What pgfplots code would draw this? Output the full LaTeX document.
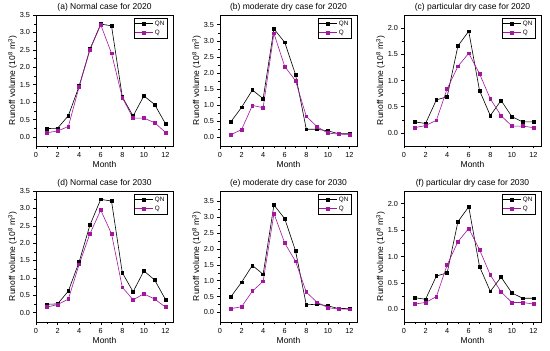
\documentclass[border=0pt]{standalone}
\usepackage{pgfplots}
\pgfplotsset{compat=1.18}
\usepgfplotslibrary{groupplots}
\usepackage{fontspec}
\setmainfont{Liberation Sans}
\definecolor{qmag}{HTML}{A3179F}
\pgfplotsset{
  every axis/.append style={
    scale only axis, width=137pt, height=131pt,
    xmin=0, xmax=12.7, xtick={0,2,...,12}, minor x tick num=1,
    minor y tick num=1,
    tick align=outside, tick pos=left,
    major tick length=2.5pt, minor tick length=1.5pt,
    tick style={black, line width=0.4pt},
    axis line style={line width=0.5pt},
    /pgf/number format/assume math mode=true,
    /pgf/number format/fixed, /pgf/number format/fixed zerofill,
    /pgf/number format/precision=1,
    xticklabel style={font=\fontsize{7.3}{8}\selectfont, /pgf/number format/precision=0},
    yticklabel style={font=\fontsize{7.3}{8}\selectfont},
    xlabel={Month}, ylabel={Runoff volume (10\textsuperscript{8} m\textsuperscript{3})},
    label style={font=\fontsize{8.5}{9}\selectfont},
    xlabel style={yshift=3pt},
    ylabel style={yshift=-4pt},
    title style={font=\fontsize{8.5}{9}\selectfont, yshift=-6pt},
    legend style={font=\fontsize{6.3}{6.5}\selectfont, at={(0.96,0.98)}, anchor=north east,
      draw=black, line width=0.4pt, inner sep=1pt, row sep=-1pt, legend cell align=left},
    legend image code/.code={\draw[mark repeat=2,mark phase=2] plot coordinates {(0cm,0cm) (0.3cm,0cm) (0.6cm,0cm)};},
    cycle list={{black, line width=0.6pt, mark=square*, mark size=1.4pt},{qmag, line width=0.6pt, mark=square*, mark size=1.4pt}},
  },
}
\begin{document}
\begin{tikzpicture}
\begin{groupplot}[group style={group size=3 by 2, horizontal sep=47pt, vertical sep=45pt}]
\nextgroupplot[title={(a) Normal case for 2020}, ymin=-0.26, ymax=3.5, ytick={0,0.5,...,3.5}]
\addplot coordinates {(1,0.24)(2,0.25)(3,0.61)(4,1.46)(5,2.52)(6,3.24)(7,3.19)(8,1.15)(9,0.60)(10,1.18)(11,0.93)(12,0.38)};
\addplot coordinates {(1,0.12)(2,0.17)(3,0.30)(4,1.44)(5,2.50)(6,3.22)(7,2.40)(8,1.13)(9,0.54)(10,0.54)(11,0.41)(12,0.13)};
\legend{QN,Q}
\nextgroupplot[title={(b) moderate dry case for 2020}, ymin=-0.27, ymax=3.8, ytick={0,0.5,...,3.5}]
\addplot coordinates {(1,0.48)(2,0.93)(3,1.47)(4,1.20)(5,3.37)(6,2.95)(7,1.95)(8,0.25)(9,0.25)(10,0.20)(11,0.11)(12,0.11)};
\addplot coordinates {(1,0.08)(2,0.24)(3,0.99)(4,0.92)(5,3.23)(6,2.20)(7,1.76)(8,0.65)(9,0.33)(10,0.13)(11,0.10)(12,0.09)};
\legend{QN,Q}
\nextgroupplot[title={(c) particular dry case for 2020}, ymin=-0.25, ymax=2.25, ytick={0,0.5,...,2.0}]
\addplot coordinates {(1,0.21)(2,0.18)(3,0.63)(4,0.69)(5,1.66)(6,1.94)(7,0.81)(8,0.33)(9,0.62)(10,0.31)(11,0.21)(12,0.21)};
\addplot coordinates {(1,0.10)(2,0.14)(3,0.24)(4,0.84)(5,1.27)(6,1.52)(7,1.13)(8,0.65)(9,0.33)(10,0.13)(11,0.13)(12,0.10)};
\legend{QN,Q}
\nextgroupplot[title={(d) Normal case for 2030}, ymin=-0.27, ymax=3.5, ytick={0,0.5,...,3.5}]
\addplot coordinates {(1,0.24)(2,0.25)(3,0.62)(4,1.46)(5,2.52)(6,3.26)(7,3.21)(8,1.15)(9,0.60)(10,1.20)(11,0.94)(12,0.38)};
\addplot coordinates {(1,0.16)(2,0.23)(3,0.39)(4,1.39)(5,2.27)(6,2.95)(7,2.27)(8,0.73)(9,0.37)(10,0.54)(11,0.39)(12,0.16)};
\legend{QN,Q}
\nextgroupplot[title={(e) moderate dry case for 2030}, ymin=-0.3, ymax=3.82, ytick={0,0.5,...,3.5}]
\addplot coordinates {(1,0.49)(2,0.95)(3,1.48)(4,1.20)(5,3.38)(6,2.95)(7,1.94)(8,0.24)(9,0.26)(10,0.21)(11,0.12)(12,0.13)};
\addplot coordinates {(1,0.12)(2,0.18)(3,0.67)(4,0.98)(5,3.11)(6,2.18)(7,1.61)(8,0.64)(9,0.32)(10,0.15)(11,0.11)(12,0.10)};
\legend{QN,Q}
\nextgroupplot[title={(f) particular dry case for 2030}, ymin=-0.24, ymax=2.24, ytick={0,0.5,...,2.0}]
\addplot coordinates {(1,0.22)(2,0.19)(3,0.63)(4,0.69)(5,1.66)(6,1.94)(7,0.81)(8,0.34)(9,0.61)(10,0.31)(11,0.21)(12,0.21)};
\addplot coordinates {(1,0.10)(2,0.13)(3,0.24)(4,0.84)(5,1.28)(6,1.53)(7,1.13)(8,0.65)(9,0.33)(10,0.13)(11,0.13)(12,0.10)};
\legend{QN,Q}
\end{groupplot}
\useasboundingbox ([xshift=-36pt,yshift=15pt]group c1r1.north west) rectangle ([xshift=514pt,yshift=-336pt]group c1r1.north west);
\end{tikzpicture}
\end{document}
